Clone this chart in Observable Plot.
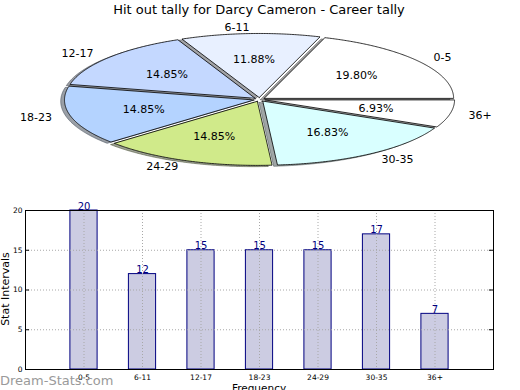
<!DOCTYPE html>
<html><head><meta charset="utf-8">
<script src="https://cdn.jsdelivr.net/npm/d3@7"></script>
<script src="https://cdn.jsdelivr.net/npm/@observablehq/plot@0.6"></script>
<style>
body{margin:0;background:#fff;overflow:hidden;}
#wrap{position:relative;width:520px;height:390px;overflow:hidden;font-family:"DejaVu Sans",sans-serif;background:#fff;}
#title{position:absolute;left:0;width:518px;top:2px;text-align:center;font-size:13px;line-height:16px;color:#000;}
#pie{position:absolute;left:0;top:0;}
#bars{position:absolute;left:0;top:200px;}
#ylab{position:absolute;left:-44px;top:283px;width:100px;text-align:center;font-size:11px;line-height:12px;transform:rotate(-90deg);color:#000;}
#xlab{position:absolute;left:209px;width:100px;top:382px;text-align:center;font-size:10.5px;line-height:12px;color:#000;}
#wm{position:absolute;left:0;top:373px;font-size:13px;line-height:16px;color:#9a9a9a;}
svg{overflow:visible;}
</style></head><body><div id="wrap">
<div id="pie"></div><div id="bars"></div>
<div id="title">Hit out tally for Darcy Cameron - Career tally</div>
<div id="ylab">Stat Intervals</div><div id="xlab">Frequency</div><div id="wm">Dream-Stats.com</div>
</div>
<script>
const categories = ["0-5","6-11","12-17","18-23","24-29","30-35","36+"];
const counts = [20,12,15,15,15,17,7];
const sliceColors = ["#ffffff","#e8f0ff","#c4d8ff","#b4d3ff","#d0ea8a","#d9ffff","#ffffff"];
const yTicks = [0,5,10,15,20];

// ---------- pie ----------
const EXPLODE = 0.03, SH = -0.02;
const total = d3.sum(counts);
let cum = 0;
const slices = counts.map((v,i)=>{
  const a0 = cum/total*2*Math.PI; cum += v; const a1 = cum/total*2*Math.PI;
  const mid = (a0+a1)/2;
  const ox = EXPLODE*Math.cos(mid), oy = EXPLODE*Math.sin(mid);
  const pts = [[ox,oy]];
  const n = Math.max(2, Math.ceil((a1-a0)/(Math.PI/360)));
  for (let k=0;k<=n;k++){ const a=a0+(a1-a0)*k/n; pts.push([ox+Math.cos(a), oy+Math.sin(a)]); }
  pts.push([ox,oy]);
  return {name:categories[i], color:sliceColors[i], pct:(v/total*100).toFixed(2)+"%", mid, ox, oy, pts};
});
function shade(c){ const r=d3.rgb(c); return d3.rgb(r.r*0.3,r.g*0.3,r.b*0.3).formatHex(); }

const cx = 259, cy = 99, rx = 189.5, ry = 64.1, PW = 520, PH = 195;
const pie = Plot.plot({
  width: PW, height: PH, margin: 0,
  x: {domain: [-cx/rx, (PW-cx)/rx], range: [0, PW], axis: null},
  y: {domain: [(cy-PH)/ry, cy/ry], range: [PH, 0], axis: null},
  style: {fontFamily: "DejaVu Sans", background: "transparent"},
  marks: [
    ...slices.map(s => Plot.line(s.pts, {x: d=>d[0]+SH, y: d=>d[1]+SH, fill: shade(s.color), fillOpacity: 0.5, stroke: shade(s.color), strokeOpacity: 0.5, strokeWidth: 1})),
    ...slices.map(s => Plot.line(s.pts, {x: d=>d[0], y: d=>d[1], fill: s.color, stroke: "black", strokeWidth: 0.8})),
    Plot.text(slices, {x: s=>s.ox+0.6*Math.cos(s.mid), y: s=>s.oy+0.6*Math.sin(s.mid), text: "pct", fontSize: 11, fill: "black"}),
    Plot.text(slices.filter(s=>Math.cos(s.mid)>=0), {x: s=>s.ox+1.1*Math.cos(s.mid), y: s=>s.oy+1.1*Math.sin(s.mid), text: "name", textAnchor: "start", fontSize: 11, fill: "black"}),
    Plot.text(slices.filter(s=>Math.cos(s.mid)<0), {x: s=>s.ox+1.1*Math.cos(s.mid), y: s=>s.oy+1.1*Math.sin(s.mid), text: "name", textAnchor: "end", fontSize: 11, fill: "black"})
  ]
});
document.getElementById("pie").append(pie);

// ---------- bars ----------
const BW = 0.465;
const barData = categories.map((c,i)=>({cat:c, pos:i+1, value:counts[i]}));
const bars = Plot.plot({
  width: 520, height: 200, marginLeft: 25, marginRight: 27, marginTop: 10, marginBottom: 31,
  style: {fontFamily: "DejaVu Sans", fontSize: "7.5px", color: "black", background: "transparent"},
  x: {domain: [0, categories.length+1], ticks: barData.map(d=>d.pos), tickFormat: p=>categories[p-1], tickSize: 0, tickPadding: 5, label: null},
  y: {domain: [0, 20], ticks: yTicks, tickSize: 0, tickPadding: 3, label: null},
  marks: [
    Plot.rect(barData, {x1: d=>d.pos-BW/2, x2: d=>d.pos+BW/2, y1: 0, y2: "value", fill: "#ccccE2", stroke: "#000080", strokeWidth: 1}),
    Plot.ruleX(barData, {x: "pos", stroke: "#a8a8a8", strokeDasharray: "1,2"}),
    Plot.ruleY(yTicks.slice(1,-1), {stroke: "#a8a8a8", strokeDasharray: "1,2"}),
    Plot.ruleY(yTicks.slice(1,-1), {x1: 0, x2: 0.07, stroke: "black"}),
    Plot.ruleY(yTicks.slice(1,-1), {x1: categories.length+1-0.07, x2: categories.length+1, stroke: "black"}),
    Plot.frame({stroke: "black"}),
    Plot.text(barData, {x: "pos", y: "value", text: d=>String(d.value), lineAnchor: "bottom", dy: -1, fill: "#000080", fontSize: 10})
  ]
});
document.getElementById("bars").append(bars);
</script>
</body></html>
